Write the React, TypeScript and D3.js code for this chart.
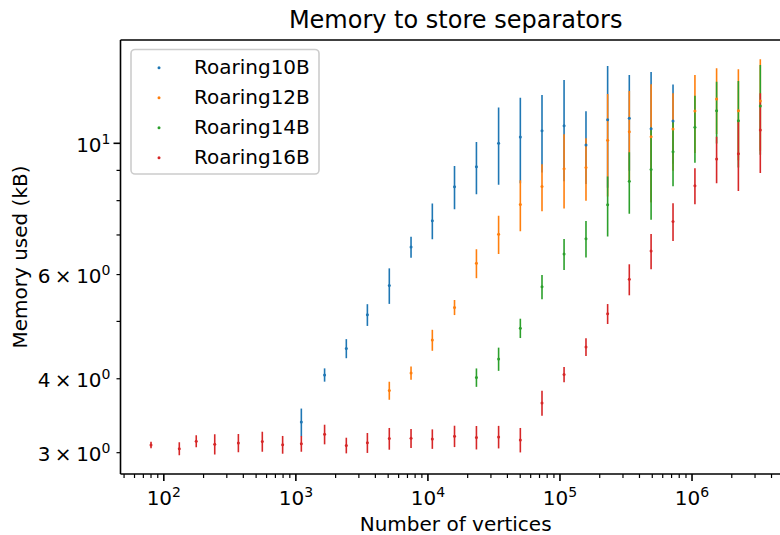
import React from 'react';
import * as d3 from 'd3';

// Graph sizes (number of vertices) shared by every run
const vertices = [
  80, 131, 176, 243, 367, 557, 794, 1100, 1650, 2410, 3480, 5100, 7450, 10800,
  15900, 23300, 34300, 50100, 73100, 107400, 157400, 229600, 335000, 489800,
  718000, 1052000, 1535000, 2244000, 3289000,
];

const seriesNames = ['Roaring10B', 'Roaring12B', 'Roaring14B', 'Roaring16B'];
const seriesColors = ['#1f77b4', '#ff7f0e', '#2ca02c', '#d62728'];
// index into `vertices` of the first measured point of each series
const seriesStart = [7, 11, 15, 0];

// mean memory (kB) and standard deviation per graph size
const roaring10Mean = [3.38, 4.06, 4.5, 5.13, 5.75, 6.68, 7.4, 8.445, 9.13, 10.0, 10.25, 10.5, 10.71, 9.934, 10.96, 11.02, 10.58, 10.907];
const roaring10Std = [0.182, 0.105, 0.167, 0.217, 0.397, 0.273, 0.513, 0.71, 0.925, 1.49, 1.69, 1.57, 2.08, 1.4, 2.55, 2.03, 2.62, 1.67];

const roaring12Mean = [3.82, 4.09, 4.65, 5.28, 6.27, 7.02, 7.88, 8.45, 9.06, 9.1, 10.12, 10.46, 10.26, 10.57, 11.34, 11.88, 11.35, 11.79];
const roaring12Std = [0.134, 0.107, 0.19, 0.155, 0.354, 0.52, 0.78, 0.77, 1.3, 1.1, 1.99, 1.8, 2.32, 1.58, 1.71, 1.51, 1.99, 2.08];

const roaring14Mean = [4.02, 4.32, 4.87, 5.72, 6.5, 6.9, 7.87, 8.63, 9.03, 9.68, 10.65, 11.35, 10.92, 11.56];
const roaring14Std = [0.144, 0.195, 0.183, 0.27, 0.39, 0.49, 0.915, 1.03, 1.6, 1.22, 1.38, 1.36, 1.82, 2.0];

const roaring16Mean = [3.091, 3.046, 3.137, 3.1, 3.115, 3.133, 3.095, 3.106, 3.222, 3.086, 3.118, 3.169, 3.172, 3.165, 3.199, 3.183, 3.19, 3.153, 3.64, 4.066, 4.526, 5.15, 5.89, 6.575, 7.377, 8.48, 9.41, 9.6, 10.53];
const roaring16Std = [0.04, 0.077, 0.074, 0.122, 0.111, 0.122, 0.107, 0.095, 0.123, 0.094, 0.121, 0.134, 0.118, 0.12, 0.133, 0.145, 0.14, 0.15, 0.177, 0.121, 0.156, 0.2, 0.355, 0.45, 0.54, 0.594, 0.85, 1.29, 1.62];

const seriesMeans = [roaring10Mean, roaring12Mean, roaring14Mean, roaring16Mean];
const seriesStds = [roaring10Std, roaring12Std, roaring14Std, roaring16Std];

// axis ticks
const xMajorExponents = [2, 3, 4, 5, 6];
const yMajorTicks = [10];
const yMinorTicks = [3, 4, 5, 6, 7, 8, 9];
const yMinorLabels = ['3', '4', '6'];

const title = 'Memory to store separators';
const xLabel = 'Number of vertices';
const yLabel = 'Memory used (kB)';

const W = 780;
const H = 535;
const plot = { left: 120.5, right: 790.8, top: 40, bottom: 474 };
const FONT = 'DejaVu Sans';

export default function App() {
  const x = d3
    .scaleLog()
    .domain([10 ** 1.672, 10 ** 6.748])
    .range([plot.left, plot.right]);
  const y = d3
    .scaleLog()
    .domain([10 ** 0.4411, 10 ** 1.1746])
    .range([plot.bottom, plot.top]);

  const xMinor: number[] = [];
  for (let e = 1; e <= 6; e++) {
    for (let m = 2; m <= 9; m++) {
      const v = m * 10 ** e;
      const px = x(v);
      if (px >= plot.left && px <= W) xMinor.push(v);
    }
  }

  const points = seriesNames.map((name, s) =>
    seriesMeans[s].map((mean, i) => ({
      vx: vertices[seriesStart[s] + i],
      mean,
      std: seriesStds[s][i],
    }))
  );

  const cx = (plot.left + plot.right) / 2;
  const cy = (plot.top + plot.bottom) / 2;

  return (
    <svg
      width={W}
      height={H}
      style={{ position: 'absolute', left: 0, top: 0, background: '#fff' }}
      fontFamily={FONT}
    >
      <defs>
        <clipPath id="plot-area">
          <rect x={plot.left} y={plot.top} width={plot.right - plot.left} height={plot.bottom - plot.top} />
        </clipPath>
      </defs>
      <rect x={0} y={0} width={W} height={H} fill="#fff" />

      {/* error bars, drawn series by series */}
      <g clipPath="url(#plot-area)">
        {points.map((pts, s) => (
          <g key={seriesNames[s]} stroke={seriesColors[s]} strokeWidth={1.6}>
            {pts.map((p, i) => (
              <line
                key={i}
                x1={x(p.vx)}
                x2={x(p.vx)}
                y1={y(p.mean - p.std)}
                y2={y(p.mean + p.std)}
              />
            ))}
          </g>
        ))}
        {/* mean markers above all bars */}
        {points.map((pts, s) => (
          <g key={seriesNames[s] + '-m'} fill={seriesColors[s]}>
            {pts.map((p, i) => (
              <circle key={i} cx={x(p.vx)} cy={y(p.mean)} r={1.5} />
            ))}
          </g>
        ))}
      </g>

      {/* spines */}
      <g stroke="#000" strokeWidth={1.6} fill="none">
        <line x1={plot.left} x2={plot.left} y1={plot.top} y2={plot.bottom} />
        <line x1={plot.left} x2={plot.right} y1={plot.bottom} y2={plot.bottom} />
        <line x1={plot.left} x2={plot.right} y1={plot.top} y2={plot.top} />
        <line x1={plot.right} x2={plot.right} y1={plot.top} y2={plot.bottom} />
      </g>

      {/* x ticks */}
      <g stroke="#000">
        {xMajorExponents.map((e) => (
          <line key={e} x1={x(10 ** e)} x2={x(10 ** e)} y1={plot.bottom} y2={plot.bottom + 7} strokeWidth={1.6} />
        ))}
        {xMinor.map((v) => (
          <line key={v} x1={x(v)} x2={x(v)} y1={plot.bottom} y2={plot.bottom + 4} strokeWidth={1.2} />
        ))}
      </g>
      <g fontSize={20} fill="#000">
        {xMajorExponents.map((e) => (
          <text key={e} x={x(10 ** e)} y={505} textAnchor="middle">
            10
            <tspan dy={-8} fontSize={14}>
              {e}
            </tspan>
          </text>
        ))}
      </g>

      {/* y ticks */}
      <g stroke="#000">
        {yMajorTicks.map((v) => (
          <line key={v} x1={plot.left - 7} x2={plot.left} y1={y(v)} y2={y(v)} strokeWidth={1.6} />
        ))}
        {yMinorTicks.map((v) => (
          <line key={v} x1={plot.left - 4} x2={plot.left} y1={y(v)} y2={y(v)} strokeWidth={1.2} />
        ))}
      </g>
      <g fontSize={20} fill="#000">
        {yMajorTicks.map((v) => (
          <text key={v} x={110.5} y={y(v) + 8.5} textAnchor="end">
            10
            <tspan dy={-8} fontSize={14}>
              {Math.round(Math.log10(v))}
            </tspan>
          </text>
        ))}
        {yMinorLabels.map((m) => (
          <text key={m} x={110.5} y={y(+m) + 8.5} textAnchor="end">
            {m}
            <tspan dx={4.5}>×</tspan>
            <tspan dx={4.5}>10</tspan>
            <tspan dy={-8} fontSize={14}>
              0
            </tspan>
          </text>
        ))}
      </g>

      {/* labels and title */}
      <text x={cx} y={531} textAnchor="middle" fontSize={20}>
        {xLabel}
      </text>
      <text transform={`translate(27.3,${cy}) rotate(-90)`} textAnchor="middle" fontSize={20}>
        {yLabel}
      </text>
      <text x={cx} y={28} textAnchor="middle" fontSize={24}>
        {title}
      </text>

      {/* legend */}
      <g>
        <rect x={131} y={49.5} width={188} height={124.5} rx={4} fill="#fff" fillOpacity={0.8} stroke="#cccccc" strokeWidth={1.6} />
        {seriesNames.map((name, s) => (
          <g key={name}>
            <circle cx={159} cy={67.7 + s * 30} r={1.5} fill={seriesColors[s]} />
            <text x={194} y={73.5 + s * 30} fontSize={20}>
              {name}
            </text>
          </g>
        ))}
      </g>
    </svg>
  );
}
